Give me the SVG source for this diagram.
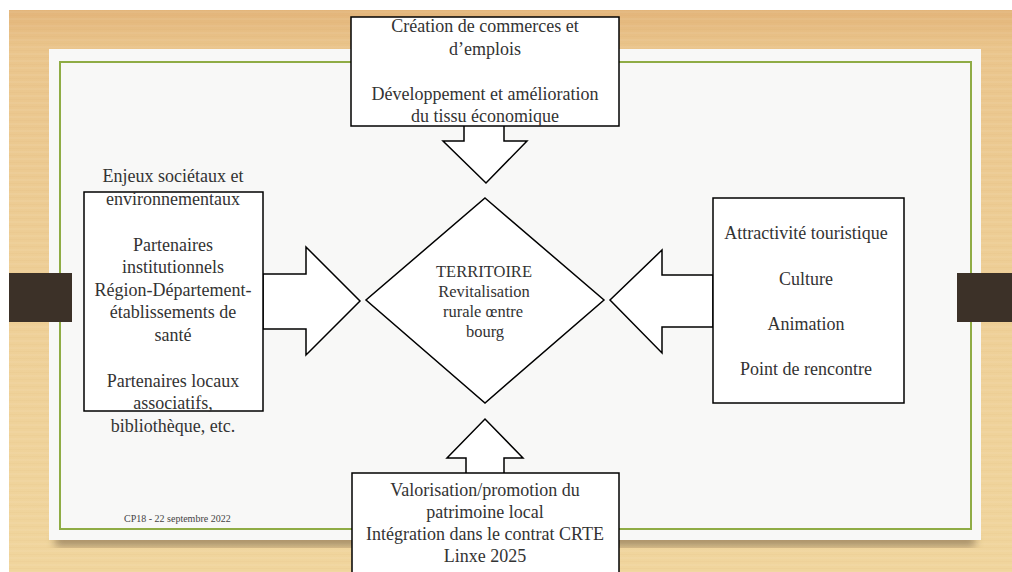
<svg xmlns="http://www.w3.org/2000/svg" width="1012" height="572" viewBox="0 0 1012 572">
<defs>
<linearGradient id="wood" x1="0" y1="0" x2="0" y2="1">
<stop offset="0" stop-color="#e3b57a"/>
<stop offset="0.07" stop-color="#eac58c"/>
<stop offset="0.5" stop-color="#eecf97"/>
<stop offset="1" stop-color="#f0d59d"/>
</linearGradient>
<pattern id="grain" width="1012" height="7" patternUnits="userSpaceOnUse">
<rect x="0" y="1" width="1012" height="1" fill="#c89a5a" opacity="0.06"/>
<rect x="0" y="4" width="1012" height="2" fill="#ffffff" opacity="0.05"/>
</pattern>
<filter id="shadow" x="-10%" y="-10%" width="120%" height="130%">
<feGaussianBlur stdDeviation="4"/>
</filter>
<style>
.box{fill:#ffffff;stroke:#000;stroke-width:1.5}
.arrow{fill:#ffffff;stroke:#000;stroke-width:1.5;stroke-linejoin:miter}
.t{font-family:"Liberation Serif","DejaVu Serif",serif;font-size:18px;fill:#333333;text-anchor:middle}
.d{font-size:16.5px}
.foot{font-family:"Liberation Serif","DejaVu Serif",serif;font-size:10px;fill:#444}
.tab{fill:#3c3128}
</style>
</defs>
<rect x="0" y="0" width="1012" height="572" fill="#ffffff"/>
<rect x="9" y="10" width="1003" height="562" fill="url(#wood)"/>
<rect x="9" y="10" width="1003" height="562" fill="url(#grain)"/>
<rect x="55" y="536" width="920" height="10" fill="#5a4630" opacity="0.55" filter="url(#shadow)"/>
<rect x="49" y="49" width="932" height="491" fill="#f8f8f7"/>
<rect x="60" y="62" width="911" height="467" fill="none" stroke="#8fac45" stroke-width="2"/>
<rect class="tab" x="9" y="273" width="63" height="49"/>
<rect class="tab" x="957" y="273" width="55" height="49"/>
<text class="foot" x="124" y="522">CP18 - 22 septembre 2022</text>

<g id="connectors">
<polygon class="arrow" points="464,125 464,141 443,141 486,183 527,141 504,141 504,125"/>
<polygon class="arrow" points="263,274 306,274 306,247 360,301 306,355 306,329 263,329"/>
<polygon class="arrow" points="713,275 662,275 662,250 610,300 662,353 662,327 713,327"/>
<polygon class="arrow" points="466,474 466,458 447,458 485,419 523,458 504,458 504,474"/>
</g>

<g id="node-top">
<rect class="box" x="351" y="17" width="268" height="109"/>
<text class="t" x="485" y="32">Création de commerces et</text>
<text class="t" x="485" y="55">d’emplois</text>
<text class="t" x="485" y="100">Développement et amélioration</text>
<text class="t" x="485" y="122">du tissu économique</text>
</g>

<g id="node-left">
<rect class="box" x="84" y="192" width="179" height="219"/>
<text class="t" x="173" y="182">Enjeux sociétaux et</text>
<text class="t" x="173" y="205">environnementaux</text>
<text class="t" x="173" y="251">Partenaires</text>
<text class="t" x="173" y="273">institutionnels</text>
<text class="t" x="173" y="296">Région-Département-</text>
<text class="t" x="173" y="318">établissements de</text>
<text class="t" x="173" y="341">santé</text>
<text class="t" x="173" y="387">Partenaires locaux</text>
<text class="t" x="173" y="409">associatifs,</text>
<text class="t" x="173" y="432">bibliothèque, etc.</text>
</g>

<g id="node-center">
<polygon class="box" points="485,198 604,300 485,403 366,300"/>
<text class="t d" x="484" y="277">TERRITOIRE</text>
<text class="t d" x="484" y="297">Revitalisation</text>
<text class="t d" x="483" y="317">rurale œntre</text>
<text class="t d" x="485" y="337">bourg</text>
</g>

<g id="node-right">
<rect class="box" x="713" y="198" width="191" height="205"/>
<text class="t" x="806" y="239">Attractivité touristique</text>
<text class="t" x="806" y="285">Culture</text>
<text class="t" x="806" y="330">Animation</text>
<text class="t" x="806" y="375">Point de rencontre</text>
</g>

<g id="node-bottom">
<rect class="box" x="352" y="473" width="267" height="110"/>
<text class="t" x="485" y="496">Valorisation/promotion du</text>
<text class="t" x="485" y="518">patrimoine local</text>
<text class="t" x="485" y="540">Intégration dans le contrat CRTE</text>
<text class="t" x="485" y="562">Linxe 2025</text>
</g>
</svg>
